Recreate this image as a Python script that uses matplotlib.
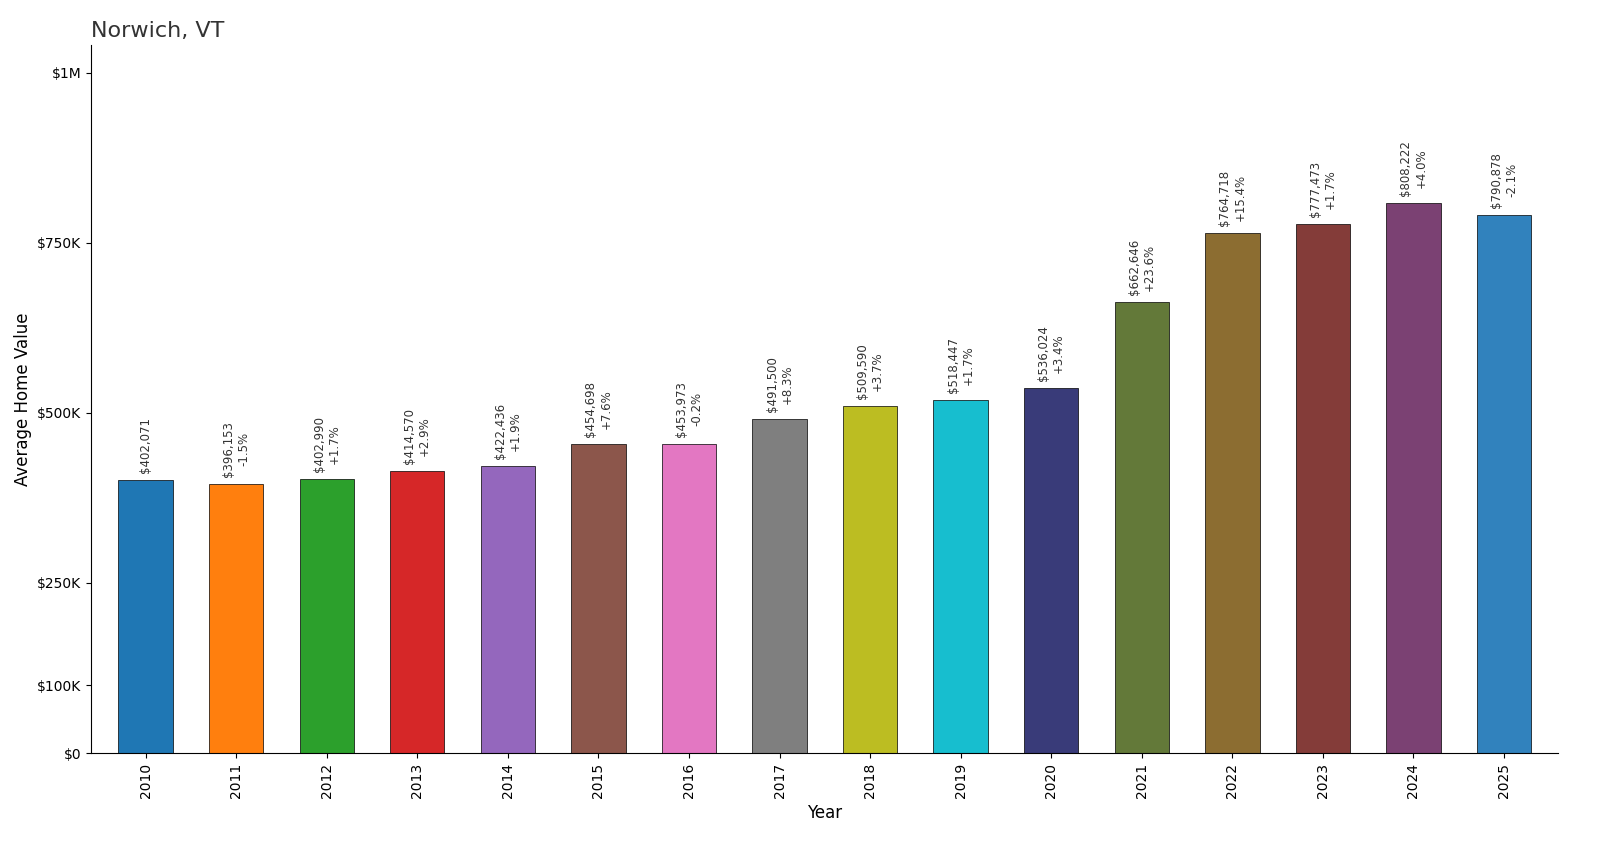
import matplotlib
matplotlib.use("Agg")
import matplotlib.pyplot as plt

years = [str(y) for y in range(2010, 2026)]
values = [402071, 396153, 402990, 414570, 422436, 454698, 453973, 491500, 509590,
          518447, 536024, 662646, 764718, 777473, 808222, 790878]
changes = [None, "-1.5%", "+1.7%", "+2.9%", "+1.9%", "+7.6%", "-0.2%", "+8.3%", "+3.7%",
           "+1.7%", "+3.4%", "+23.6%", "+15.4%", "+1.7%", "+4.0%", "-2.1%"]
colors = ['#1f77b4', '#ff7f0e', '#2ca02c', '#d62728', '#9467bd', '#8c564b', '#e377c2',
          '#7f7f7f', '#bcbd22', '#17becf', '#393b79', '#637939', '#8c6d31', '#843c39',
          '#7b4173', '#3182bd']
yticks = [0, 100000, 250000, 500000, 750000, 1000000]
yticklabels = ["$0", "$100K", "$250K", "$500K", "$750K", "$1M"]

fig = plt.figure(figsize=(16, 8.48), dpi=100)
ax = fig.add_axes([0.057, 0.112, 0.917, 0.835])
x = range(len(years))
ax.bar(x, values, width=0.6, color=colors, edgecolor='black', linewidth=0.5)
for i, v in enumerate(values):
    txt = f"${v:,}" if changes[i] is None else f"${v:,}\n{changes[i]}"
    ax.annotate(txt, (i, v), xytext=(0, 5), textcoords='offset points',
                rotation=90, ha='center', va='bottom', fontsize=8.5, color='#333333')
ax.set_xticks(list(x))
ax.set_xticklabels(years, rotation=90, fontsize=10)
ax.set_yticks(yticks)
ax.set_yticklabels(yticklabels, fontsize=10)
ax.set_ylim(0, 1041000)
ax.set_xlim(-0.6, 15.6)
ax.set_xlabel("Year", fontsize=12)
ax.set_ylabel("Average Home Value", fontsize=12)
ax.set_title("Norwich, VT", loc='left', fontsize=16, color='#333333')
ax.spines['top'].set_visible(False)
ax.spines['right'].set_visible(False)
fig.savefig("out.png", dpi=100)
